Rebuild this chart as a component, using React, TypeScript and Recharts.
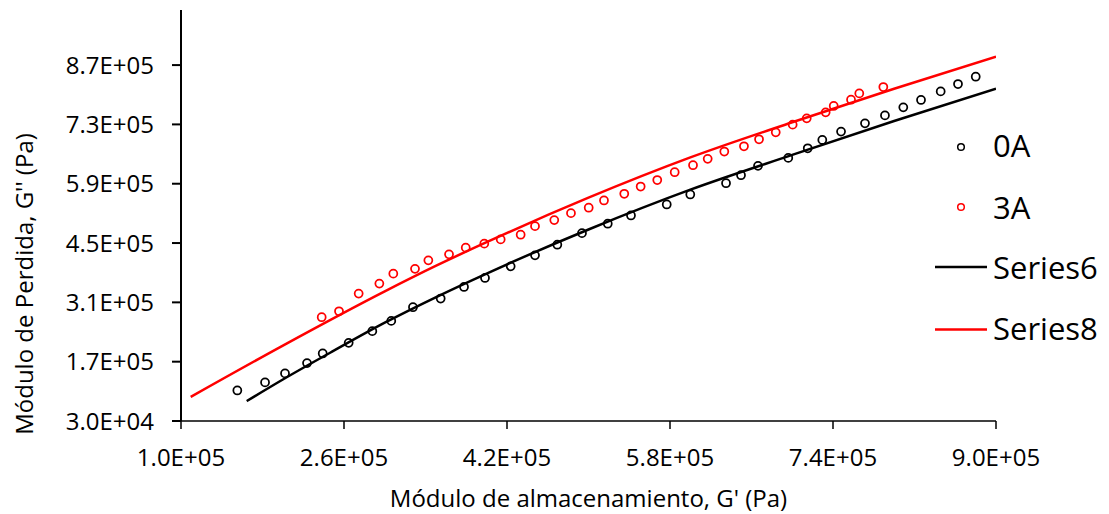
import React from 'react';
import { ComposedChart, Scatter, Line, XAxis, YAxis, Label } from 'recharts';

// G' (storage) and G'' (loss) readings, Pa
const storage0A = [
  155300, 182500, 202100, 223700, 239100, 264600, 287800, 306400, 327700, 354900,
  377800, 398400, 423600, 447500, 469400, 493600, 518900, 541700, 576800, 599900,
  635000, 649700, 666400, 696100, 715200, 729500, 747900, 771400, 791000, 809000,
  826400, 845700, 862700, 880100,
];
const loss0A = [
  102000, 121100, 142300, 166600, 189400, 214400, 242000, 266200, 298500, 319000,
  346300, 367500, 395000, 420900, 446100, 473400, 495600, 515100, 541000, 564600,
  591200, 610000, 632200, 651000, 673600, 693400, 713000, 732500, 751300, 770200,
  787600, 807900, 825300, 842500,
];

const storage3A = [
  238100, 255100, 274400, 294700, 308400, 329700, 342800, 363100, 379500, 397700,
  413800, 433400, 447500, 466400, 482800, 500200, 515200, 535100, 551200, 567500,
  584600, 602600, 617000, 633300, 652600, 667400, 683800, 700400, 714200, 732800,
  740700, 757700, 765800, 789400,
];
const loss3A = [
  274900, 289000, 330700, 354300, 377800, 389100, 409200, 423300, 439100, 448500,
  458600, 469700, 489900, 504100, 520500, 533300, 550500, 566200, 583400, 598700,
  617100, 633600, 648700, 665900, 678300, 694800, 711300, 729400, 744300, 758400,
  773500, 788300, 803200, 818200,
];

// fitted curves
const fitStorage6 = [164500, 200000, 250000, 300000, 350000, 400000, 500000, 600000, 700000, 800000, 900000];
const fitLoss6 = [77000, 128000, 196000, 262000, 322000, 378000, 482000, 576000, 658000, 738000, 814000];
const fitStorage8 = [109500, 200000, 300000, 350000, 400000, 500000, 600000, 700000, 800000, 900000];
const fitLoss8 = [87000, 208000, 336000, 396000, 452000, 557000, 652000, 735000, 814000, 890000];

const xTicks = [100000, 260000, 420000, 580000, 740000, 900000];
const yTicks = [30000, 170000, 310000, 450000, 590000, 730000, 870000];

const toPoints = (xs: number[], ys: number[]) => xs.map((x, i) => ({ x, y: ys[i] }));

const sci = (v: number) => {
  const [m, e] = v.toExponential(1).split('e');
  const n = parseInt(e, 10);
  return `${m}E${n < 0 ? '-' : '+'}${String(Math.abs(n)).padStart(2, '0')}`;
};

const FONT = '"Open Sans", sans-serif';

const ring = (color: string) => (props: any) => (
  <circle cx={props.cx} cy={props.cy} r={4} fill="none" stroke={color} strokeWidth={1.75} />
);

const App: React.FC = () => {
  return (
    <div style={{ position: 'absolute', left: 0, top: 0, width: 1109, height: 514, background: '#fff' }}>
      <ComposedChart width={1109} height={514} margin={{ top: 10, right: 113, left: 0, bottom: 0 }}>
        <XAxis
          type="number"
          dataKey="x"
          domain={[100000, 900000]}
          ticks={xTicks}
          tickFormatter={sci}
          allowDataOverflow
          height={93}
          tickSize={8}
          tickMargin={20}
          stroke="#000"
          strokeWidth={1.5}
          tick={{ fill: '#000', fontSize: 24, fontFamily: FONT }}
        >
          <Label
            value="Módulo de almacenamiento, G' (Pa)"
            position="insideBottom"
            offset={7}
            style={{ fill: '#000', fontSize: 24, fontFamily: FONT }}
          />
        </XAxis>
        <YAxis
          type="number"
          dataKey="y"
          domain={[30000, 1000000]}
          ticks={yTicks}
          tickFormatter={sci}
          allowDataOverflow
          width={181}
          tickSize={9}
          tickMargin={18}
          stroke="#000"
          strokeWidth={2}
          tick={{ fill: '#000', fontSize: 24, fontFamily: FONT }}
        >
          <Label
            content={() => (
              <text
                x={33}
                y={284}
                transform="rotate(-90, 33, 284)"
                textAnchor="middle"
                fill="#000"
                fontSize={24}
                fontFamily={FONT}
              >
                Módulo de Perdida, G'' (Pa)
              </text>
            )}
          />
        </YAxis>

        <Line
          data={toPoints(fitStorage8, fitLoss8)}
          dataKey="y"
          type="monotone"
          stroke="#ff0000"
          strokeWidth={2.5}
          dot={false}
          activeDot={false}
          isAnimationActive={false}
        />
        <Line
          data={toPoints(fitStorage6, fitLoss6)}
          dataKey="y"
          type="monotone"
          stroke="#000"
          strokeWidth={2.5}
          dot={false}
          activeDot={false}
          isAnimationActive={false}
        />
        <Scatter data={toPoints(storage0A, loss0A)} dataKey="y" shape={ring('#000')} isAnimationActive={false} />
        <Scatter data={toPoints(storage3A, loss3A)} dataKey="y" shape={ring('#ff0000')} isAnimationActive={false} />
      </ComposedChart>

      <svg
        width={1109}
        height={514}
        style={{ position: 'absolute', left: 0, top: 0, pointerEvents: 'none' }}
        fontFamily={FONT}
        fontSize={31}
      >
        <circle cx={961} cy={147} r={3.3} fill="none" stroke="#000" strokeWidth={1.5} />
        <text x={993} y={157}>0A</text>
        <circle cx={961} cy={207} r={3.3} fill="none" stroke="#ff0000" strokeWidth={1.5} />
        <text x={993} y={219}>3A</text>
        <line x1={935} x2={987} y1={267} y2={267} stroke="#000" strokeWidth={2.5} />
        <text x={993} y={279}>Series6</text>
        <line x1={935} x2={987} y1={329.5} y2={329.5} stroke="#ff0000" strokeWidth={2.5} />
        <text x={993} y={340}>Series8</text>
      </svg>
    </div>
  );
};

export default App;
